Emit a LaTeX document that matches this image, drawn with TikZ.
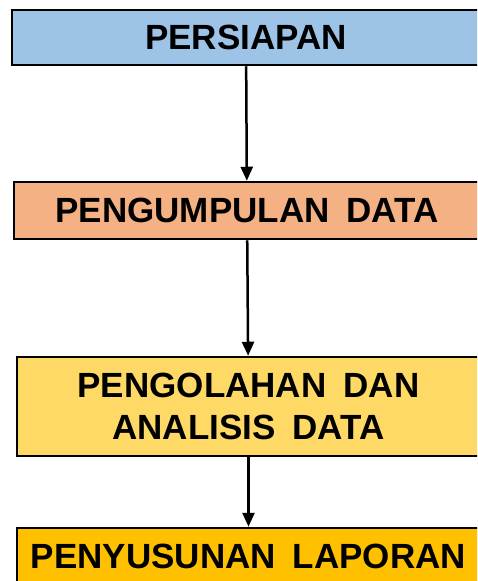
\documentclass[tikz,border=0pt]{standalone}
\usepackage{fontspec}
\setmainfont{Liberation Sans}
\usetikzlibrary{positioning, arrows.meta}
\definecolor{biru}{HTML}{9DC3E6}
\definecolor{salem}{HTML}{F4B183}
\definecolor{kuning}{HTML}{FFD966}
\definecolor{emas}{HTML}{FFC000}
\newcommand{\hurufkotak}{\fontsize{35}{42}\selectfont\bfseries\spaceskip=17pt\relax}
\tikzset{kotak/.style={draw, line width=2.5pt, align=center, inner sep=0pt, font=\hurufkotak},
	panah/.style={line width=2.5pt, -{Triangle[length=14pt,width=12pt]}}}
\begin{document}
\begin{tikzpicture}[x=1pt, y=-1pt]
		\useasboundingbox (0,0) rectangle (477,581);
		\clip (0,0) rectangle (477,581);
		\node[kotak, fill=biru, minimum width=468pt, minimum height=55pt] (persiapan) at (246,37.5) {PERSIAPAN};
		\node[kotak, fill=salem, minimum width=466pt, minimum height=57pt] (pengumpulan) at (247,210.5) {PENGUMPULAN DATA};
		\node[kotak, fill=kuning, minimum width=463pt, minimum height=99pt] (pengolahan) at (248.5,406.5) {PENGOLAHAN DAN\\ANALISIS DATA};
		\node[kotak, fill=emas, minimum width=463pt, minimum height=56pt] (penyusunan) at (248.5,556) {PENYUSUNAN LAPORAN};
		\draw [panah](persiapan)--(pengumpulan);
		\draw [panah](pengumpulan)--(pengolahan);
		\draw [panah](pengolahan)--(penyusunan);
	\end{tikzpicture}
\end{document}
